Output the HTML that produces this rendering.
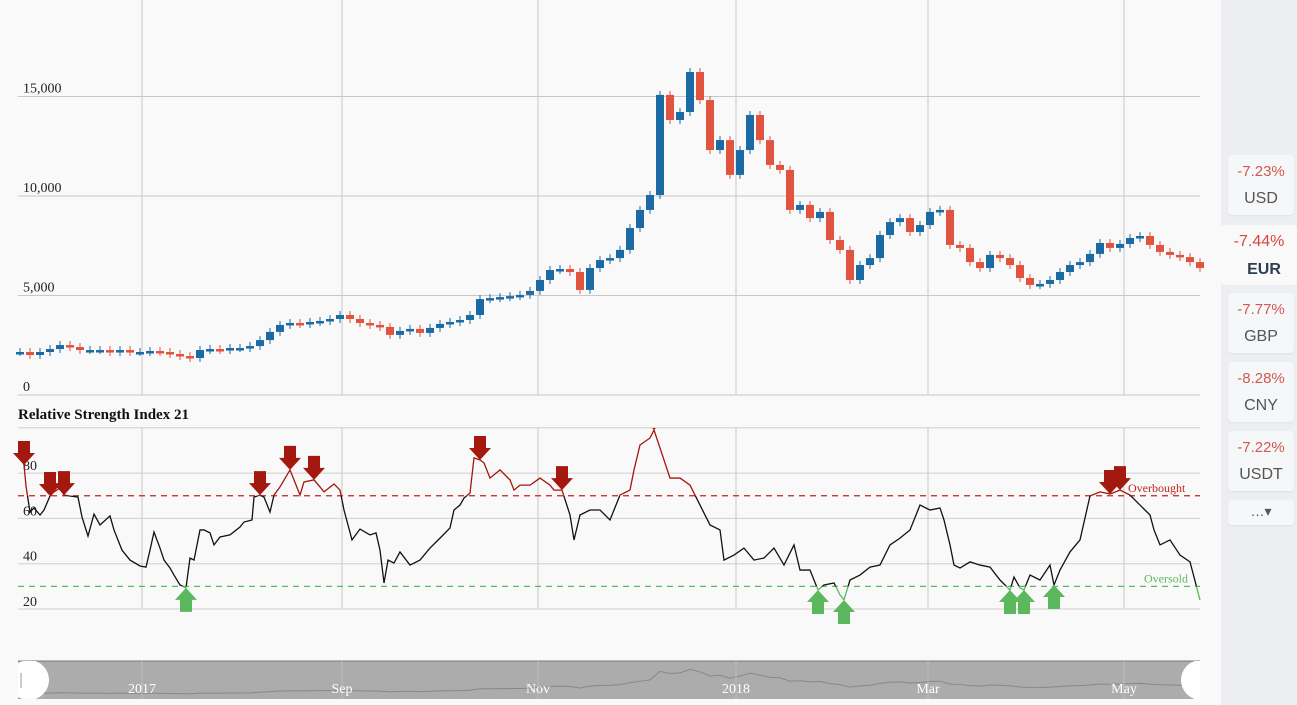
<!DOCTYPE html>
<html><head><meta charset="utf-8"><style>
body{margin:0;background:#f9f9f9;width:1297px;height:705px;overflow:hidden;font-family:"Liberation Serif",serif;}
#side{position:absolute;left:1221px;top:0;width:76px;height:705px;background:#eceef2;}
.card{position:absolute;left:7px;width:66px;height:60px;background:#f6f7f9;border-radius:4px;box-shadow:0 1px 2px rgba(0,0,0,.06);font-family:"Liberation Sans",sans-serif;text-align:center;}
.card .p{color:#d05a50;font-size:15px;margin-top:8px}
.card .c{color:#555;font-size:16px;margin-top:10px}
</style></head><body>
<svg id="chart" width="1221" height="705" style="position:absolute;left:0;top:0"></svg>
<div id="side">
 <div class="card" style="top:155px"><div class="p">-7.23%</div><div class="c">USD</div></div>
 <div class="card" style="top:225px;background:#f9f9f9;box-shadow:none;left:0;width:76px"><div class="p" style="color:#d9463b;font-size:16px">-7.44%</div><div class="c" style="font-weight:bold;color:#2e3e50;margin-left:10px">EUR</div></div>
 <div class="card" style="top:293px"><div class="p">-7.77%</div><div class="c">GBP</div></div>
 <div class="card" style="top:362px"><div class="p">-8.28%</div><div class="c">CNY</div></div>
 <div class="card" style="top:431px"><div class="p">-7.22%</div><div class="c">USDT</div></div>
 <div class="card" style="top:500px;height:25px"><div class="c" style="margin-top:3px;font-size:14px">…▾</div></div>
</div>
<script>
const priceTicks=[0,5000,10000,15000];
const priceTickLabels=["0","5,000","10,000","15,000"];
const rsiTicks=[20,40,60,80,100];
const rsiTickLabels=["20","40","60","80",""];
const monthLabels=["2017","Sep","Nov","2018","Mar","May"];
const monthDays=[62,162,260,359,455,553];
const closes=[2160,2010,2160,2310,2510,2410,2260,2260,2260,2160,2260,2160,2160,2210,2160,2060,1960,1860,2260,2310,2260,2360,2360,2460,2760,3170,3520,3620,3570,3670,3720,3820,4020,3820,3620,3520,3420,3020,3220,3320,3120,3370,3570,3670,3770,4020,4820,4870,4920,4970,5030,5230,5780,6280,6330,6180,5280,6380,6780,6880,7290,8390,9300,10050,15080,13820,14220,16230,14820,12310,12810,11060,12310,14070,12810,11560,11310,9300,9550,8890,9200,7790,7290,5780,6530,6880,8040,8690,8890,8190,8540,9200,9300,7540,7390,6680,6380,7040,6880,6530,5880,5530,5580,5780,6180,6530,6680,7090,7640,7390,7590,7890,7990,7540,7190,7040,6930,6680,6380];
const rsiDays=[1,3,4,6,8,11,13,16,18,21,23,26,30,32,35,38,41,46,48,52,56,61,64,66,68,71,73,76,78,81,84,86,88,91,93,96,98,101,106,111,113,117,118,121,123,126,128,131,136,138,141,143,148,151,153,158,161,163,167,171,176,179,181,183,185,188,191,196,201,206,211,216,218,221,223,226,228,231,233,236,241,246,248,251,256,261,266,268,272,276,278,281,286,291,296,301,306,308,311,316,318,321,326,331,336,341,346,351,353,358,363,368,373,378,383,388,391,396,400,403,408,411,413,416,421,426,431,436,441,446,451,456,461,463,466,468,471,476,481,486,491,496,498,501,503,506,511,516,518,521,526,531,536,541,546,551,556,561,566,568,571,576,581,586,591];
const rsiValues=[89.3,83.6,74.3,62.8,64.6,61.5,63.7,69.9,71.7,73.4,70.3,69.9,69.4,60.6,52.2,61.9,57.1,61.1,54.9,46.0,41.6,39.0,38.5,46.0,54.0,46.9,41.6,38.1,35.0,30.6,29.3,42.5,41.6,54.9,54.9,53.6,48.3,51.8,52.7,56.2,58.4,59.3,69.4,70.3,69.4,62.8,70.3,73.9,81.4,77.0,70.3,76.1,77.0,73.9,71.7,75.2,72.5,63.7,50.5,55.3,52.7,53.6,46.0,31.5,41.6,40.3,45.2,39.4,41.6,46.9,51.3,55.8,63.7,65.9,69.0,71.2,86.7,85.8,84.5,77.8,81.4,77.0,72.5,74.7,74.7,77.8,74.7,72.5,72.5,61.5,50.5,61.5,63.7,63.7,59.3,70.3,72.5,81.4,92.4,95.5,99.0,91.1,77.8,77.8,74.7,65.9,57.1,54.9,41.6,43.8,46.9,41.6,42.5,46.9,39.4,48.3,37.2,37.2,28.4,30.6,31.5,26.2,24.0,32.8,35.0,38.5,39.4,48.3,51.3,54.9,65.9,63.7,64.6,59.3,48.3,39.4,38.1,40.8,39.4,38.5,32.8,28.4,34.1,29.3,28.4,35.0,32.8,39.4,30.6,37.2,45.2,50.5,69.9,71.7,70.8,72.5,70.3,65.9,61.5,54.9,48.3,50.5,43.8,40.8,24.0];
const sellDays=[3,16,23,121,136,148,231,272,318,546,551];
const buyDays=[84,400,413,496,503,518];

const NS="http://www.w3.org/2000/svg";
const svg=document.getElementById('chart');
const X0=18,X1=1200;
const xDay=d=>X0+2*d;
const yPrice=v=>395-v*0.0199;
const yRsi=v=>609-(v-20)*2.265;
function el(t,a,p){const e=document.createElementNS(NS,t);for(const k in a)e.setAttribute(k,a[k]);(p||svg).appendChild(e);return e;}
const defs=el('defs',{});
monthDays.forEach(d=>{
 const g=el('line',{x1:xDay(d),x2:xDay(d),y1:0,y2:395,stroke:'#c8c8c8'});
 
 const g2=el('line',{x1:xDay(d),x2:xDay(d),y1:428,y2:609,stroke:'#c8c8c8'});
 
});
priceTicks.forEach((v,i)=>{
 const l=el('line',{x1:X0,x2:X1,y1:yPrice(v),y2:yPrice(v),stroke:'#c8c8c8'});
 
 const t=el('text',{x:23,y:yPrice(v)-4,'font-size':14,fill:'#222'});t.textContent=priceTickLabels[i];
 
});
closes.forEach((c,i)=>{
 const o=i?closes[i-1]:c;const x=xDay(1+5*i);
 const up=c>=o;const col=up?'#1b6aa3':'#e0533f';
 const hi=Math.max(o,c),lo=Math.min(o,c);
 const w=el('line',{x1:x,x2:x,y1:yPrice(hi)-4,y2:yPrice(lo)+4,stroke:col,'stroke-width':1});
 
 const r=el('rect',{x:x-4,y:yPrice(hi),width:8,height:Math.max(2.5,yPrice(lo)-yPrice(hi)),fill:col});
 
});
const tt=el('text',{x:18,y:419,'font-size':15,'font-weight':'bold',fill:'#111'});tt.textContent='Relative Strength Index 21';

rsiTicks.forEach((v,i)=>{
 const l=el('line',{x1:X0,x2:X1,y1:yRsi(v),y2:yRsi(v),stroke:'#cfcfcf'});
 
 const t=el('text',{x:23,y:yRsi(v)-3,'font-size':14,fill:'#222'});t.textContent=rsiTickLabels[i];
 
});
const ob=el('line',{x1:X0,x2:X1,y1:yRsi(70),y2:yRsi(70),stroke:'#c0261c','stroke-dasharray':'6,5','stroke-width':1.3});

const os=el('line',{x1:X0,x2:X1,y1:yRsi(30),y2:yRsi(30),stroke:'#5cb85c','stroke-dasharray':'6,5','stroke-width':1.3});

const obt=el('text',{x:1128,y:yRsi(70)-4,'font-size':12,fill:'#c0261c'});obt.textContent='Overbought';

const ost=el('text',{x:1144,y:yRsi(30)-4,'font-size':12,fill:'#5cb85c'});ost.textContent='Oversold';

[['cTop',0,yRsi(70)],['cMid',yRsi(70),yRsi(30)-yRsi(70)],['cBot',yRsi(30),200],['cPanel',428,300]].forEach(a=>{
 const cp=el('clipPath',{id:a[0]},defs);el('rect',{x:0,y:a[1],width:1221,height:a[2]},cp);
});
const pts=rsiDays.map((d,i)=>xDay(d)+','+yRsi(rsiValues[i])).join(' ');
[['cTop','#a3150c'],['cMid','#111'],['cBot','#5cb85c']].forEach(a=>{
 const p=el('polyline',{points:pts,fill:'none',stroke:a[1],'stroke-width':1.3,'clip-path':'url(#'+a[0]+')'});
 
});
function rsiAt(d){let b=0;rsiDays.forEach((x,i)=>{if(Math.abs(x-d)<Math.abs(rsiDays[b]-d))b=i;});return rsiValues[b];}
sellDays.forEach(d=>{
 const x=xDay(d),y=yRsi(rsiAt(d));
 const a=el('polygon',{points:`${x},${y} ${x-11},${y-12} ${x-6},${y-12} ${x-6},${y-24} ${x+6},${y-24} ${x+6},${y-12} ${x+11},${y-12}`,fill:'#a3190f','clip-path':'url(#cPanel)'});
 
});
buyDays.forEach(d=>{
 const x=xDay(d),y=yRsi(rsiAt(d));
 const a=el('polygon',{points:`${x},${y} ${x-11},${y+12} ${x-6},${y+12} ${x-6},${y+24} ${x+6},${y+24} ${x+6},${y+12} ${x+11},${y+12}`,fill:'#5cb85c'});
 
});
const nb=el('rect',{x:X0,y:661,width:X1-X0,height:38,fill:'#acacac'});

el('line',{x1:X0,x2:X1,y1:661,y2:661,stroke:'#777'});
const yNav=v=>697-v*0.0017;
const np=el('polyline',{points:closes.map((c,i)=>xDay(1+5*i)+','+yNav(c)).join(' '),fill:'none',stroke:'#888','stroke-width':1});

monthLabels.forEach((m,i)=>{
 el('line',{x1:xDay(monthDays[i]),x2:xDay(monthDays[i]),y1:661,y2:699,stroke:'#bbb'});
 const t=el('text',{x:xDay(monthDays[i]),y:693,'font-size':14,fill:'#fff','text-anchor':'middle'});t.textContent=m;
 
});
const cpn=el('clipPath',{id:'nav'},defs);el('rect',{x:X0,y:661,width:X1-X0,height:38},cpn);
[[29,'left'],[1201,'right']].forEach(h=>{
 const c=el('circle',{cx:h[0],cy:680,r:20,fill:'#fff','clip-path':'url(#nav)'});
 
});
el('line',{x1:21,x2:21,y1:673,y2:688,stroke:'#999'});
</script>
</body></html>
